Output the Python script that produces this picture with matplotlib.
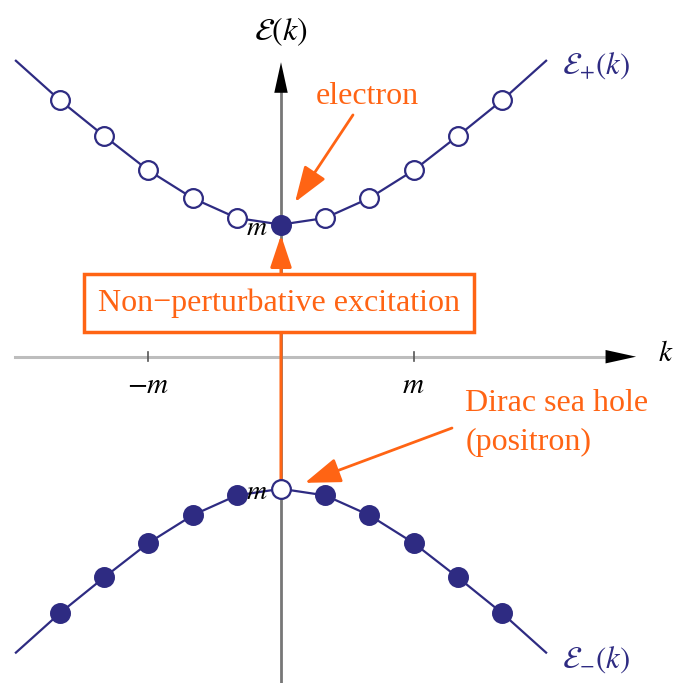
import numpy as np
import matplotlib
matplotlib.use('Agg')
import matplotlib.pyplot as plt

plt.rcParams['font.family'] = ['Liberation Serif', 'DejaVu Serif']
plt.rcParams['mathtext.fontset'] = 'stix'

# momentum grid in units of m, and energies
k_vals = [-2, -5/3, -4/3, -1, -2/3, -1/3, 0, 1/3, 2/3, 1, 4/3, 5/3, 2]
e_plus = [2.24, 1.94, 1.67, 1.41, 1.20, 1.05, 1.00, 1.05, 1.20, 1.41, 1.67, 1.94, 2.24]
e_minus = [-e for e in e_plus]
tick_vals = [-1, 1]
tick_labels = [r'$-m$', r'$m$']

navy = '#2e2b82'
orange = '#ff6414'

fig = plt.figure(figsize=(6.76, 6.83), dpi=100)
ax = fig.add_axes([0, 0, 1, 1])
ax.set_xlim(-2.12, 2.98)
ax.set_ylim(-2.47, 2.70)
ax.axis('off')

# axes
ax.plot([-2.01, 2.55], [0, 0], color='#bdbdbd', lw=2.2, zorder=1)
ax.annotate('', xy=(2.70, 0), xytext=(2.45, 0),
            arrowprops=dict(arrowstyle='-|>,head_length=1.0,head_width=0.22',
                            mutation_scale=22, color='black', lw=0))
ax.plot([0, 0], [-2.47, 2.10], color='#777777', lw=2.0, zorder=1)
ax.annotate('', xy=(0, 2.25), xytext=(0, 2.00),
            arrowprops=dict(arrowstyle='-|>,head_length=1.0,head_width=0.22',
                            mutation_scale=22, color='black', lw=0))
for t in tick_vals:
    ax.plot([t, t], [-0.035, 0.035], color='#555555', lw=1.2, zorder=1)
for t, lab in zip(tick_vals, tick_labels):
    ax.text(t, -0.22, lab, ha='center', va='center', fontsize=21)
ax.text(2.90, 0.02, r'$k$', ha='center', va='center', fontsize=21)
ax.text(0, 2.46, r'$\mathcal{E}(k)$', ha='center', va='center', fontsize=23)

# dispersion branches
ax.plot(k_vals, e_plus, color=navy, lw=1.6, zorder=2)
ax.plot(k_vals, e_minus, color=navy, lw=1.6, zorder=2)
for i in range(1, len(k_vals) - 1):
    filled_up = k_vals[i] == 0
    ax.plot(k_vals[i], e_plus[i], 'o', ms=13.5, mew=1.6, mec=navy,
            mfc=navy if filled_up else 'white', zorder=4)
    ax.plot(k_vals[i], e_minus[i], 'o', ms=13.5, mew=1.6, mec=navy,
            mfc='white' if filled_up else navy, zorder=4)

ax.text(2.12, 2.20, r'$\mathcal{E}_{+}(k)$', color=navy, ha='left', va='center', fontsize=22)
ax.text(2.12, -2.29, r'$\mathcal{E}_{-}(k)$', color=navy, ha='left', va='center', fontsize=22)
ax.text(-0.10, 0.97, r'$m$', ha='right', va='center', fontsize=20, zorder=3)
ax.text(-0.10, -1.03, r'$m$', ha='right', va='center', fontsize=20, zorder=3)

# excitation arrow and box
ax.annotate('', xy=(0, 0.92), xytext=(0, -1.0),
            arrowprops=dict(arrowstyle='-|>,head_length=0.9,head_width=0.3',
                            mutation_scale=22, color=orange, lw=2.2,
                            shrinkA=0, shrinkB=0), zorder=3)
ax.text(-0.015, 0.405, 'Non\u2212perturbative excitation', color=orange,
        ha='center', va='center', fontsize=23, zorder=5,
        bbox=dict(boxstyle='square,pad=0.45', fc='white', ec=orange, lw=2.5))

ax.text(0.65, 1.97, 'electron', color=orange, ha='center', va='center', fontsize=23)
ax.annotate('', xy=(0.106, 1.17), xytext=(0.543, 1.83),
            arrowprops=dict(arrowstyle='-|>,head_length=1.0,head_width=0.35',
                            mutation_scale=22, color=orange, lw=2.0,
                            shrinkA=0, shrinkB=0))
ax.text(1.39, -0.50, 'Dirac sea hole\n(positron)', color=orange, ha='left',
        va='center', fontsize=23, linespacing=1.45)
ax.annotate('', xy=(0.18, -0.955), xytext=(1.29, -0.54),
            arrowprops=dict(arrowstyle='-|>,head_length=1.0,head_width=0.35',
                            mutation_scale=22, color=orange, lw=2.0,
                            shrinkA=0, shrinkB=0))

fig.savefig('out.png', dpi=100)
